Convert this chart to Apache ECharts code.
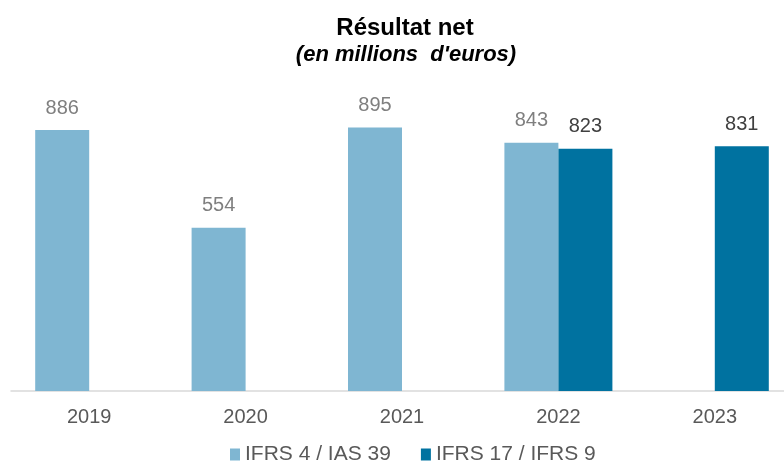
<!DOCTYPE html>
<html>
<head>
<meta charset="utf-8">
<script src="https://cdn.jsdelivr.net/npm/echarts@6/dist/echarts.min.js"></script>
<style>
  html, body { margin:0; padding:0; background:#fff; }
  #chart { width:784px; height:470px; }
</style>
</head>
<body>
<div id="chart"></div>
<script>
// ===== data =====
const years      = ['2019','2020','2021','2022','2023'];
const ifrs4      = [886, 554, 895, 843, null];   // IFRS 4 / IAS 39
const ifrs17     = [null, null, null, 823, 831]; // IFRS 17 / IFRS 9
const seriesNames = ['IFRS 4 / IAS 39', 'IFRS 17 / IFRS 9'];

const FONT = '"Liberation Sans", Arial, sans-serif';

const chart = echarts.init(document.getElementById('chart'), null, { renderer:'canvas' });

chart.setOption({
  animation: false,
  title: [
    {
      text: 'Résultat net',
      left: 400, top: 11, textAlign: 'center',
      textStyle: { fontFamily: FONT, fontSize: 24, fontWeight: 'bold', color: '#000' }
    },
    {
      text: "(en millions  d'euros)",
      left: 401, top: 39, textAlign: 'center',
      textStyle: { fontFamily: FONT, fontSize: 22, fontWeight: 'bold', fontStyle: 'italic', color: '#000' }
    }
  ],
  legend: {
    bottom: 0, left: 225,
    icon: 'rect', itemWidth: 10, itemHeight: 12, itemGap: 30,
    textStyle: { fontFamily: FONT, fontSize: 21, color: '#595959' },
    data: seriesNames
  },
  // grid is allowed to run past the right edge, like the source picture
  grid: { left: 11, width: 782, top: 96.5, bottom: 79, outerBoundsMode: 'none', containLabel: false },
  xAxis: {
    type: 'category',
    data: years,
    axisTick: { show: false },
    axisLine: { lineStyle: { color: '#d9d9d9', width: 1.5 } },
    axisLabel: { fontFamily: FONT, fontSize: 20, color: '#595959', margin: 16 }
  },
  yAxis: {
    type: 'value', min: 0, max: 1000, show: false,
    splitLine: { show: false }
  },
  series: [
    {
      name: seriesNames[0], type: 'bar', data: ifrs4,
      barWidth: 54, barGap: '0%',
      itemStyle: { color: '#7fb6d2' },
      label: { show: true, position: 'top', distance: 12,
               fontFamily: FONT, fontSize: 20, color: '#7f7f7f' }
    },
    {
      name: seriesNames[1], type: 'bar', data: ifrs17,
      barWidth: 54, barGap: '0%',
      itemStyle: { color: '#0072a0' },
      label: { show: true, position: 'top', distance: 12,
               fontFamily: FONT, fontSize: 20, color: '#404040' }
    }
  ]
});
</script>
</body>
</html>
